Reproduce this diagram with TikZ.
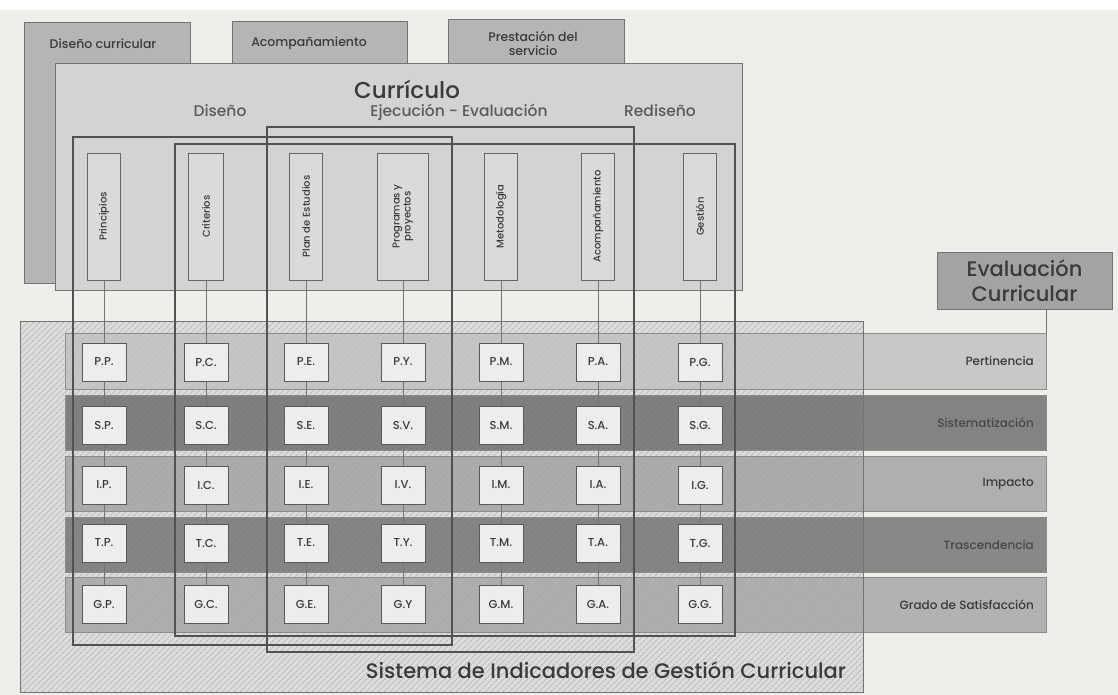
\documentclass[tikz,border=0pt]{standalone}
\usepackage{fontspec}
\setmainfont{Poppins}[UprightFont=* Medium]
\usetikzlibrary{patterns.meta,calc}
\definecolor{bg}{HTML}{F0EEEB}
\definecolor{tabgray}{HTML}{B5B5B5}
\definecolor{curgray}{HTML}{D3D3D3}
\definecolor{hatchbase}{HTML}{DCDCDC}
\definecolor{hatchc}{HTML}{A2A2A2}
\definecolor{bandP}{HTML}{C0C0C0}
\definecolor{bandS}{HTML}{6C6C6C}
\definecolor{bandI}{HTML}{A2A2A2}
\definecolor{bandT}{HTML}{727272}
\definecolor{bandG}{HTML}{A5A5A5}
\definecolor{sqfill}{HTML}{EDEDED}
\definecolor{rectline}{HTML}{525252}
\definecolor{txtdark}{HTML}{3A3A3A}
\definecolor{txtmid}{HTML}{5A5A5A}
\begin{document}
\begin{tikzpicture}[x=1pt,y=-1pt,
  tab/.style={draw=black!55, fill=tabgray, line width=0.8pt},
  tabtext/.style={font=\fontsize{12.5}{14}\selectfont, text=txtdark, align=center, inner sep=0},
  curbox/.style={draw=black!55, fill=curgray, line width=0.8pt},
  phase/.style={font=\fontsize{15.5}{17}\selectfont, text=txtmid, inner sep=0},
  vbox/.style={draw=black!60, fill=curgray!85!white, line width=0.9pt, rotate=90,
    minimum width=127pt, minimum height=33pt, inner sep=0, align=center,
    font=\fontsize{10}{11}\selectfont, text=txtdark},
  sq/.style={draw=black!65, fill=sqfill, line width=1pt, minimum width=44pt,
    minimum height=38pt, inner sep=0, font=\fontsize{11.5}{12}\selectfont, text=txtdark},
  band/.style={draw=black!45, line width=0.6pt, fill opacity=0.82, minimum width=981pt, inner sep=0},
  rowlab/.style={anchor=east, font=\fontsize{12}{13}\selectfont, inner sep=0},
  conn/.style={draw=black!55, line width=0.8pt},
  bigrect/.style={draw=rectline, line width=2.6pt},
  evbox/.style={draw=black!55, fill=tabgray!90!black, line width=0.8pt, minimum width=175pt,
    minimum height=57pt, inner sep=0, align=center, font=\fontsize{21}{25}\selectfont, text=txtdark}
]
\useasboundingbox (0,0) rectangle (1118,695);
\fill[bg] (0,0) rectangle (1118,695);
\fill[white] (0,0) rectangle (1118,10);

% tabs
\draw[tab] (24,22) rectangle (190,283);
\draw[tab] (232,21) rectangle (407,70);
\draw[tab] (448,19) rectangle (624,70);
\node[tabtext] (tdc) at (103,44) {Diseño curricular};
\node[tabtext] (tac) at (309,43) {Acompañamiento};
\node[tabtext] (tps) at (533,44) {Prestación del\\servicio};

% curriculo box
\draw[curbox] (55,63) rectangle (742,290);
\node[font=\fontsize{23}{25}\selectfont, text=txtdark, inner sep=0] (curt) at (407,89) {Currículo};
\node[phase] (fd) at (220,111) {Diseño};
\node[phase] (fe) at (459,112) {Ejecución - Evaluación};
\node[phase] (fr) at (660,111) {Rediseño};

% hatched system box
\path[fill=hatchbase] (20,321) rectangle (863,692);
\path[pattern={Lines[angle=45,distance=4pt,line width=0.6pt]}, pattern color=hatchc] (20,321) rectangle (863,692);

% bands
\node[band, fill=bandP, minimum height=56pt] (bP) at (555.5,361) {};
\node[band, fill=bandS, minimum height=55pt] (bS) at (555.5,422.5) {};
\node[band, fill=bandI, minimum height=55pt] (bI) at (555.5,483.5) {};
\node[band, fill=bandT, minimum height=55pt] (bT) at (555.5,544.5) {};
\node[band, fill=bandG, minimum height=55pt] (bG) at (555.5,604.5) {};
\draw[draw=black!55, line width=0.8pt] (20,321) rectangle (863,692);

\node[rowlab, text=txtdark] (lP) at (1034,361) {Pertinencia};
\node[rowlab, text=black!72] (lS) at (1034,422.5) {Sistematización};
\node[rowlab, text=txtdark] (lI) at (1034,483.5) {Impacto};
\node[rowlab, text=black!72] (lT) at (1034,544.5) {Trascendencia};
\node[rowlab, text=txtdark] (lG) at (1034,604.5) {Grado de Satisfacción};

% evaluacion curricular
\node[evbox] (ev) at (1024.5,280.5) {Evaluación\\Curricular};
\draw[conn] (bP.north east) -- (bP.north east |- ev.south);

% columns
\foreach \n/\x/\w/\t in {1/104/33/Principios, 2/206/35/Criterios, 3/306/33/Plan de Estudios,
   4/403/51/{Programas y\\proyectos}, 5/501/33/Metodología, 6/598/33/Acompañamiento, 7/700/33/Gestión}{
  \node[vbox, minimum height=\w pt] (v\n) at (\x,216.5) {\t};
}
\foreach \n in {1,...,7}{
  \coordinate (c\n) at (v\n.west);
}
% squares
\foreach \r/\y/\lab in {P/362/{P.P.,P.C.,P.E.,P.Y.,P.M.,P.A.,P.G.},
                        S/425/{S.P.,S.C.,S.E.,S.V.,S.M.,S.A.,S.G.},
                        I/485/{I.P.,I.C.,I.E.,I.V.,I.M.,I.A.,I.G.},
                        T/543/{T.P.,T.C.,T.E.,T.Y.,T.M.,T.A.,T.G.},
                        G/604/{G.P.,G.C.,G.E.,G.Y,G.M.,G.A.,G.G.}}{
  \foreach \l [count=\k] in \lab {
    \node[sq] (s\r\k) at (c\k |- 0,\y) {\l};
  }
}
% connectors
\foreach \k in {1,...,7}{
  \draw[conn] (v\k.west) -- (sP\k.north);
  \draw[conn] (sP\k.south) -- (sS\k.north);
  \draw[conn] (sS\k.south) -- (sI\k.north);
  \draw[conn] (sI\k.south) -- (sT\k.north);
  \draw[conn] (sT\k.south) -- (sG\k.north);
}

% big outlined groups
\draw[bigrect] (73,137) rectangle (452,645);
\draw[bigrect] (175,144) rectangle (735,636);
\draw[bigrect] (267,127) rectangle (634,652);

% title of system
\node[font=\fontsize{21}{23}\selectfont, text=txtdark, inner sep=0] (sys) at (606,670) {Sistema de Indicadores de Gestión Curricular};
\end{tikzpicture}
\end{document}
